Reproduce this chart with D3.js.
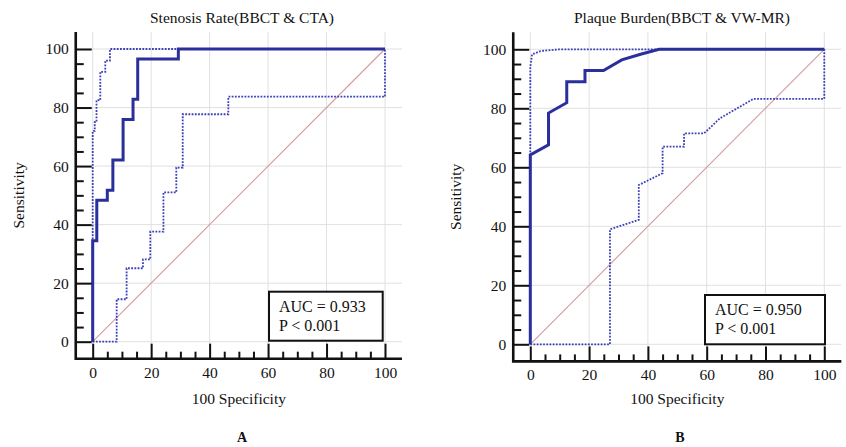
<!DOCTYPE html>
<html>
<head>
<meta charset="utf-8">
<script src="https://cdn.jsdelivr.net/npm/d3@7"></script>
<style>
  body { margin: 0; background: #fff; }
  svg text { font-family: "Liberation Serif", "Times New Roman", serif; fill: #111; }
</style>
</head>
<body>
<div id="chart"></div>
<script>
// ROC points as [100 - specificity, sensitivity]
let rocA = [[0,0],[0,34.5],[1.4,34.5],[1.4,48.3],[5,48.3],[5,51.7],[6.9,51.7],[6.9,62.1],[10.4,62.1],[10.4,75.9],[13.8,75.9],[13.8,82.8],[15.4,82.8],[15.4,96.6],[29.3,96.6],[29.3,100],[100,100]];
let upperA = [[0,0],[0,72],[0.7,72],[0.7,75],[1.3,75],[1.3,82.5],[2.6,82.5],[2.6,92.2],[4.3,92.2],[4.3,96],[5.9,96],[5.9,100],[100,100]];
let lowerA = [[0,0],[8.2,0],[8.2,14.5],[11.6,14.5],[11.6,25.1],[17.2,25.1],[17.2,28.1],[19.7,28.1],[19.7,37.6],[24.2,37.6],[24.2,51],[28.6,51],[28.6,59.5],[30.8,59.5],[30.8,77.7],[46.4,77.7],[46.4,83.7],[100,83.7],[100,100]];

let rocB = [[0,0],[0,64.2],[6.2,67.6],[6.2,78.4],[12.4,81.9],[12.4,89],[18.6,89],[18.6,92.8],[24.9,92.8],[31.1,96.4],[37.5,98.3],[43.8,100],[100,100]];
let upperB = [[0,0],[0,94],[0.6,98.3],[3.5,99.4],[10,100],[100,100]];
let lowerB = [[0,0],[27.1,0],[27.1,39],[36.9,42.2],[36.9,54],[45,58],[45,67],[52.3,67],[52.3,71.5],[59.1,71.5],[64.5,76.6],[75.9,83.2],[100,83.2],[100,100]];

let titles = ["Stenosis Rate(BBCT & CTA)", "Plaque Burden(BBCT & VW-MR)"];
let aucLines = [["AUC = 0.933", "P < 0.001"], ["AUC = 0.950", "P < 0.001"]];
let letters = ["A", "B"];
let majorTicks = [0, 20, 40, 60, 80, 100];
let minorTicks = d3.range(0, 101, 5).filter(v => v % 20 !== 0);

let width = 846, height = 447;

let svg = d3.select("#chart").append("svg")
    .attr("width", width)
    .attr("height", height);

let panels = [
    {x0: 92.7, x1: 385, y0: 341.7, y1: 49, roc: rocA, upper: upperA, lower: lowerA,
     titleX: 242, labelX: 19, letterX: 242, box: [269, 291.7, 113.7, 49]},
    {x0: 530.3, x1: 824.3, y0: 344.3, y1: 49.3, roc: rocB, upper: upperB, lower: lowerB,
     titleX: 682, labelX: 456, letterX: 680, box: [705, 295, 120, 49.3]}
];

panels.forEach(function (p, i) {
    let x = d3.scaleLinear().domain([0, 100]).range([p.x0, p.x1]);
    let y = d3.scaleLinear().domain([0, 100]).range([p.y0, p.y1]);
    let lo = -5.8, hi = 105.8;

    let g = svg.append("g");

    // grid
    g.append("g").selectAll("line").data(majorTicks).enter().append("line")
        .attr("x1", d => x(d)).attr("x2", d => x(d))
        .attr("y1", y(hi)).attr("y2", y(lo))
        .style("stroke", "#e0e0e0").style("stroke-width", 1);
    g.append("g").selectAll("line").data(majorTicks).enter().append("line")
        .attr("y1", d => y(d)).attr("y2", d => y(d))
        .attr("x1", x(lo)).attr("x2", x(hi))
        .style("stroke", "#e0e0e0").style("stroke-width", 1);

    // diagonal
    g.append("line")
        .attr("x1", x(0)).attr("y1", y(0)).attr("x2", x(100)).attr("y2", y(100))
        .style("stroke", "#d69a9a").style("stroke-width", 1.1);

    let line = d3.line().x(d => x(d[0])).y(d => y(d[1]));

    // confidence bounds
    [p.upper, p.lower].forEach(function (ci) {
        g.append("path").datum(ci)
            .attr("d", line)
            .style("fill", "none")
            .style("stroke", "#3b3fb8")
            .style("stroke-width", 1.8)
            .style("stroke-dasharray", "1.8,1.4");
    });

    // ROC curve
    g.append("path").datum(p.roc)
        .attr("d", line)
        .style("fill", "none")
        .style("stroke", "#2b2f9c")
        .style("stroke-width", 3)
        .style("stroke-linejoin", "miter");

    // axes
    let yAxis = d3.axisLeft(y).tickValues(majorTicks).tickSize(-16).tickPadding(7);
    let yMinor = d3.axisLeft(y).tickValues(minorTicks).tickSize(-8).tickFormat("");
    let xAxis = d3.axisBottom(x).tickValues(majorTicks).tickSize(-15).tickPadding(8);
    let xMinor = d3.axisBottom(x).tickValues(minorTicks).tickSize(-7).tickFormat("");

    [yAxis, yMinor].forEach(function (ax) {
        let a = g.append("g").attr("transform", "translate(" + x(lo) + ",0)").call(ax);
        a.select(".domain").remove();
        a.selectAll("line").style("stroke", "#111").style("stroke-width", 2);
        a.selectAll("text").style("font-size", "15.5px").style("font-family", "Liberation Serif");
    });
    [xAxis, xMinor].forEach(function (ax) {
        let a = g.append("g").attr("transform", "translate(0," + y(lo) + ")").call(ax);
        a.select(".domain").remove();
        a.selectAll("line").style("stroke", "#111").style("stroke-width", 2);
        a.selectAll("text").style("font-size", "15.5px").style("font-family", "Liberation Serif");
    });

    g.append("path")
        .attr("d", "M" + x(lo) + "," + y(hi) + "V" + y(lo) + "H" + x(hi))
        .style("fill", "none").style("stroke", "#111").style("stroke-width", 2.6);

    // AUC box
    g.append("rect")
        .attr("x", p.box[0]).attr("y", p.box[1])
        .attr("width", p.box[2]).attr("height", p.box[3])
        .style("fill", "#fff").style("stroke", "#111").style("stroke-width", 2);
    aucLines[i].forEach(function (t, k) {
        g.append("text")
            .attr("x", p.box[0] + 10)
            .attr("y", p.box[1] + 20 + k * 19)
            .style("font-size", "16px")
            .text(t);
    });

    // labels
    g.append("text")
        .attr("x", p.titleX).attr("y", 23)
        .attr("text-anchor", "middle")
        .style("font-size", "15.5px")
        .text(titles[i]);
    g.append("text")
        .attr("x", (x(lo) + x(hi)) / 2).attr("y", 404)
        .attr("text-anchor", "middle")
        .style("font-size", "15.5px")
        .text("100 Specificity");
    g.append("text")
        .attr("transform", "translate(" + (p.labelX + 5) + "," + ((y(lo) + y(hi)) / 2) + ") rotate(-90)")
        .attr("text-anchor", "middle")
        .style("font-size", "15.5px")
        .text("Sensitivity");
    g.append("text")
        .attr("x", p.letterX).attr("y", 442)
        .attr("text-anchor", "middle")
        .style("font-size", "14px")
        .style("font-weight", "bold")
        .text(letters[i]);
});
</script>
</body>
</html>
